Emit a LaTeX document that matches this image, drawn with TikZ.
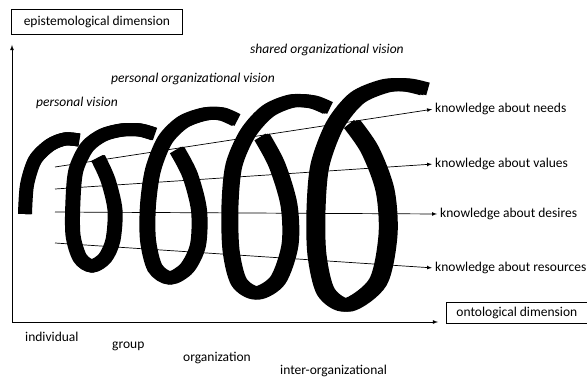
\documentclass[tikz,border=0pt]{standalone}
\usepackage{fontspec}
\setmainfont{Carlito}
\usepackage{tikz}
\usetikzlibrary{arrows}
\usetikzlibrary{positioning}
\usetikzlibrary{calc}
\tikzset{
  >=latex,
  % axes, boxes and labels
  axis/.style={draw, ->, line width=0.8pt},
  line/.style={draw, ->, line width=0.7pt, shorten >=2pt},
  dimbox/.style={draw, line width=0.8pt, minimum height=25, text centered, anchor=north west},
  txt/.style={anchor=west, inner sep=1pt},
  vision/.style={anchor=west, inner sep=0pt, font=\fontsize{13.5}{16}\selectfont\itshape},
  % thick coil stroke, wider sideways than upwards
  coil/.style={line width=13pt, line join=round,
    preaction={draw, line width=13pt, transform canvas={xshift=#1}},
    preaction={draw, line width=13pt, transform canvas={xshift=-#1}}}
}

\begin{document}
\begin{tikzpicture}[x=1pt, y=-1pt, font=\fontsize{13.5}{16}\selectfont]
    \useasboundingbox (0,0) rectangle (587,377);

    % Boxes and axes
    \node [dimbox, minimum width=171] (episte) at (11,9) {epistemological dimension};
    \node [dimbox, minimum width=141, minimum height=21] (onto) at (446,302) {ontological dimension};
    \coordinate (origin) at (12,322);
    \coordinate (top) at (12,45);
    \path [axis] (origin) -- (top);
    \path [axis] (origin) -- ($(origin -| onto.west)+(-8,0)$);

    % Levels
    \node [txt] (indiv) at (24,337) {individual};
    \node [txt] (group) at (111,346) {group};
    \node [txt] (organ) at (182,358) {organization};
    \node [txt] (inter) at (279,371) {inter-organizational};

    % Visions
    \node [vision] (pvision) at (36,103) {personal vision};
    \node [vision] (povision) at (111,79) {personal organizational vision};
    \node [vision] (sovision) at (250,50) {shared organizational vision};

    % Knowledge
    \node [txt] (needs) at (434,109) {knowledge about needs};
    \node [txt] (values) at (434,164) {knowledge about values};
    \node [txt] (desires) at (439,214) {knowledge about desires};
    \node [txt] (resources) at (434,268) {knowledge about resources};
    \coordinate (n0) at (55,167);
    \coordinate (v0) at (55,189);
    \coordinate (d0) at (55,212);
    \coordinate (r0) at (55,243);
    \path [line] (n0) -- (needs.west);
    \path [line] (v0) -- (values.west);
    \path [line] (d0) -- (desires.west);
    \path [line] (r0) -- (resources.west);

    % Coil
    \draw [coil=0.5pt] plot[smooth] coordinates {(25,214) (27,185) (35,160) (50,145) (65,139) (79,140)};
    \draw [coil=1pt] plot[smooth] coordinates {(98,158) (108,180) (115,210) (113,240) (105,258) (92,266)
        (80,258) (73,235) (73,200) (76,170) (87,147) (103,135) (122,130) (140,130) (154,134)};
    \draw [coil=1.5pt] plot[smooth] coordinates {(177,150) (190,175) (199,210) (198,245) (187,268) (170,278)
        (155,268) (148,240) (148,205) (153,170) (165,140) (183,122) (205,114) (222,114) (236,120)};
    \draw [coil=2pt] plot[smooth] coordinates {(262,137) (277,165) (289,205) (290,245) (278,280) (257,293)
        (239,282) (231,250) (230,205) (234,165) (248,133) (268,111) (292,101) (313,102) (328,108)};
    \draw [coil=3pt] plot[smooth] coordinates {(352,124) (370,150) (385,190) (388,235) (378,282) (348,305)
        (326,292) (317,255) (316,210) (320,165) (335,125) (357,98) (385,86) (407,85) (425,89)};
\end{tikzpicture}
\end{document}
